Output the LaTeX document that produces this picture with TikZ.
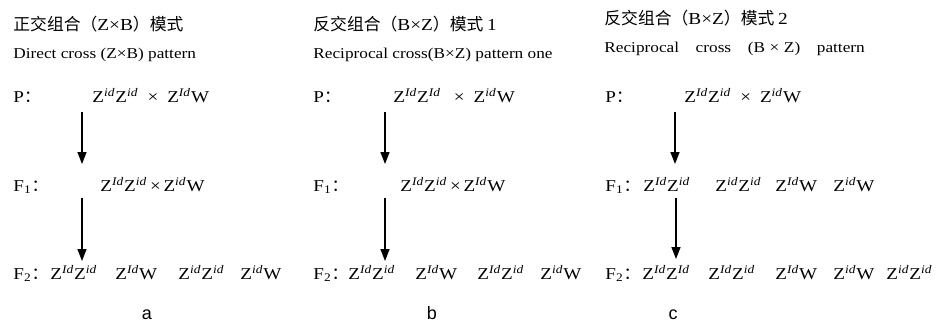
\documentclass[tikz,border=0pt]{standalone}
\usepackage{fontspec}
\setmainfont{Liberation Serif}[FakeStretch=1.15]
\newfontfamily\cjk{Noto Sans CJK SC}
\newfontfamily\tagfont{Liberation Sans}
\usetikzlibrary{arrows.meta}
\newcommand{\Zid}{Z\textsuperscript{\itshape id}}
\newcommand{\ZId}{Z\textsuperscript{\itshape Id}}
\newcommand{\cc}{{\cjk ：}}
\newcommand{\bigx}{\hspace{4.5pt}×\hspace{4.5pt}}

\begin{document}
\begin{tikzpicture}[x=0.5pt,y=-0.5pt,
    every node/.style={inner sep=0pt, anchor=base west},
    cn/.style={font=\cjk\fontsize{8.4}{10}\selectfont},
    en/.style={font=\fontsize{7.5}{9}\selectfont},
    gen/.style={font=\fontsize{8.3}{10}\selectfont},
    tag/.style={font=\tagfont\fontsize{9}{10}\selectfont, anchor=base},
    cross/.style={-{Triangle[width=4.5pt,length=6pt]}, line width=0.75pt}]
  \useasboundingbox (0,0) rectangle (942,329);

  % a: direct cross
  \node[cn] (ta) at (13,30) {正交组合（{\rmfamily Z×B}）模式};
  \node[en] (ea) at (13,58) {Direct cross (Z×B) pattern};
  \node[gen] (pa) at (13,102) {P\cc};
  \node[gen] (pxa) at (92,102) {\Zid\Zid\bigx\ZId W};
  \node[gen] (fa) at (13,191) {F\textsubscript{1}\cc};
  \node[gen] (fxa) at (100,191) {\ZId\Zid\,×\,\Zid W};
  \node[gen] (ga) at (13,279) {F\textsubscript{2}\cc};
  \node[gen] (ga1) at (50,279) {\ZId\Zid};
  \node[gen] (ga2) at (115,279) {\ZId W};
  \node[gen] (ga3) at (178,279) {\Zid\Zid};
  \node[gen] (ga4) at (240,279) {\Zid W};
  \node[tag] (la) at (147,319) {a};
  \coordinate (a1) at (82,112);
  \coordinate (a2) at (82,164);
  \coordinate (a3) at (82,198);
  \coordinate (a4) at (82,261);
  \draw[cross] (a1) -- (a2);
  \draw[cross] (a3) -- (a4);

  % b: reciprocal cross, pattern one
  \node[cn] (tb) at (313,30) {反交组合（{\rmfamily B×Z}）模式 {\rmfamily 1}};
  \node[en] (eb) at (313,58) {Reciprocal cross(B×Z) pattern one};
  \node[gen] (pb) at (313,102) {P\cc};
  \node[gen] (pxb) at (393,102) {\ZId\ZId\hspace{2pt}\bigx\Zid W};
  \node[gen] (fb) at (313,191) {F\textsubscript{1}\cc};
  \node[gen] (fxb) at (400,191) {\ZId\Zid\,×\,\ZId W};
  \node[gen] (gb) at (313,279) {F\textsubscript{2}\cc};
  \node[gen] (gb1) at (348,279) {\ZId\Zid};
  \node[gen] (gb2) at (415,279) {\ZId W};
  \node[gen] (gb3) at (477,279) {\ZId\Zid};
  \node[gen] (gb4) at (540,279) {\Zid W};
  \node[tag] (lb) at (432,319) {b};
  \coordinate (b1) at (385,112);
  \coordinate (b2) at (385,164);
  \coordinate (b3) at (385,198);
  \coordinate (b4) at (385,261);
  \draw[cross] (b1) -- (b2);
  \draw[cross] (b3) -- (b4);

  % c: reciprocal cross, pattern two
  \node[cn] (tc) at (604,24) {反交组合（{\rmfamily B×Z}）模式 {\rmfamily 2}};
  \node[en] (ec) at (604,52) {Reciprocal\ \ \hspace{4pt}cross\ \ \hspace{4pt}(B\hspace{2.3pt}×\hspace{2.3pt}Z)\ \ \hspace{4pt}pattern};
  \node[gen] (pc) at (605,102) {P\cc};
  \node[gen] (pxc) at (684,102) {\ZId\Zid\bigx\Zid W};
  \node[gen] (fc) at (605,191) {F\textsubscript{1}\cc};
  \node[gen] (fc1) at (643,191) {\ZId\Zid};
  \node[gen] (fc2) at (715,191) {\Zid\Zid};
  \node[gen] (fc3) at (775,191) {\ZId W};
  \node[gen] (fc4) at (833,191) {\Zid W};
  \node[gen] (gc) at (605,279) {F\textsubscript{2}\cc};
  \node[gen] (gc1) at (642,279) {\ZId\ZId};
  \node[gen] (gc2) at (708,279) {\ZId\Zid};
  \node[gen] (gc3) at (775,279) {\ZId W};
  \node[gen] (gc4) at (833,279) {\Zid W};
  \node[gen] (gc5) at (886,279) {\Zid\Zid};
  \node[tag] (lc) at (673,319) {c};
  \coordinate (c1) at (675,112);
  \coordinate (c2) at (675,164);
  \coordinate (c3) at (676,198);
  \coordinate (c4) at (676,259);
  \draw[cross] (c1) -- (c2);
  \draw[cross] (c3) -- (c4);
\end{tikzpicture}
\end{document}
